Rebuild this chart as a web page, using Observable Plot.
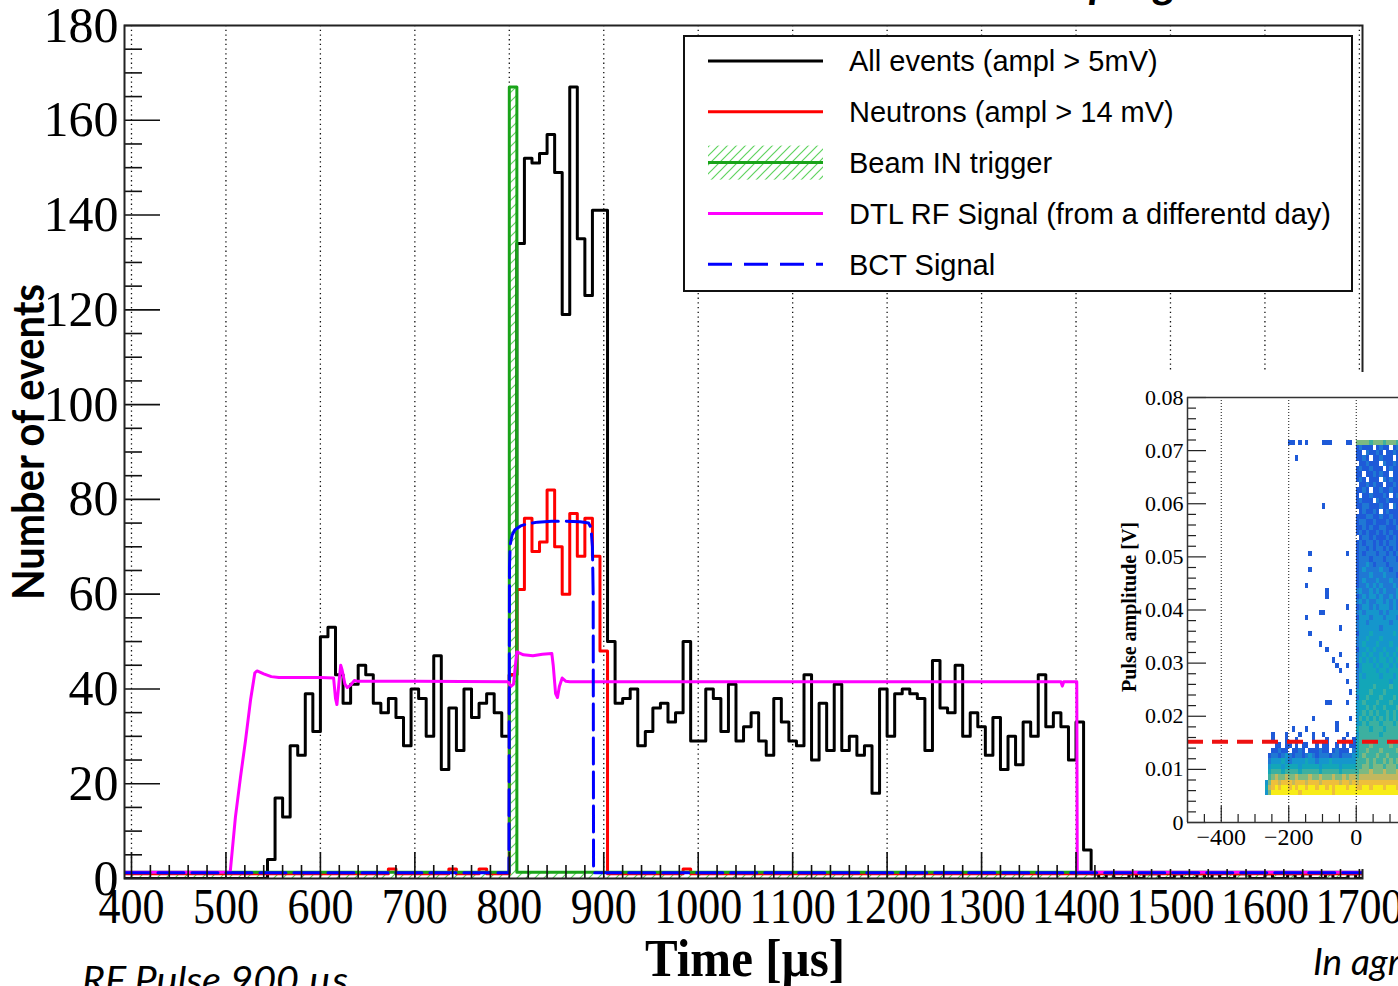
<!DOCTYPE html>
<html><head><meta charset="utf-8">
<script src="https://cdn.jsdelivr.net/npm/d3@7"></script>
<script src="https://cdn.jsdelivr.net/npm/@observablehq/plot@0.6"></script>
<style>
html,body{margin:0;padding:0;background:#fff;overflow:hidden;}
#wrap{position:relative;width:1398px;height:986px;overflow:hidden;background:#fff;}
#main{position:absolute;left:0;top:0;}
#inset{position:absolute;left:1106px;top:372px;}
</style></head><body>
<svg width="0" height="0" style="position:absolute"><defs>
<pattern id="hatch" patternUnits="userSpaceOnUse" width="9" height="9">
<path d="M-2,2 L2,-2 M0,9 L9,0 M7,11 L11,7" stroke="#5fd35f" stroke-width="1.2" fill="none"/>
</pattern></defs></svg>
<div id="wrap"><div id="main"></div><div id="inset"></div></div>
<script>
// ---------------- DATA (main histogram, 8 µs bins starting at 392 µs) ----------------
const binStart = 392, binWidth = 8;
const allEvents = [0,
 0,0,0,0,0,0,0,0,0,0,
 0,0,0,0,0,0,0,0,4,17,
 13,28,26,39,31,51,53,43,37,41,
 45,43,37,35,38,34,28,40,38,30,
 47,23,36,27,40,34,37,39,35,30,
 43,134,152,151,153,157,149,119,167,135,
 123,141,141,50,37,38,40,28,31,36,
 37,33,35,50,29,29,40,38,31,41,
 29,32,35,29,26,38,33,29,28,43,
 25,37,27,41,27,30,26,28,18,40,
 30,39,40,39,38,27,46,36,35,45,
 30,35,32,26,34,23,30,24,33,30,
 43,32,35,32,25,33,6,1,0,1,
 0,0,1,0,1,1,0,0,1,0,
 0,1,0,1,0,0,1,1,0,0,
 1,0,0,1,0,1,0,0,1,0,
 0,1,0];
const neutrons = [1,
 1,1,1,1,1,1,1,1,1,1,
 1,1,1,1,1,1,1,1,1,1,
 1,1,1,1,1,1,1,1,1,1,
 1,1,1,1,2,1,1,1,1,1,
 1,1,2,1,1,1,2,1,1,1,
 43,61,76,69,71,82,70,60,77,68,
 76,68,48,1,1,1,1,1,1,1,
 1,1,1,2,1,1,1,1,1,1,
 1,1,1,1,1,1,1,1,1,1,
 1,1,1,1,1,1,1,1,1,1,
 1,1,1,1,1,1,1,1,1,1,
 1,1,1,1,1,1,1,1,1,1,
 1,1,1,1,1,1,1,1,1,1,
 1,1,1,1,1,1,1,1,1,1,
 1,1,1,1,1,1,1,1,1,1,
 1,1,1,1,1,1,1,1,1,1,
 1,1,1];
const triggerEdges = [392, 800, 808, 1704];
const triggerCounts = [1.3, 167, 1.3];
const rfT = [392,504.5,510,515.4,520.7,526,530.6,533,540,548,556,600,614,616,617.5,619.5,621.5,623,626,628.5,632,636,640,700,799,801.5,804.5,807,808,815,825,835,845,846.5,849,851,853,856,860,864,900,1000,1100,1200,1300,1384,1385.5,1387,1400.8,1401.3,1704];
const rfV = [1.3,1.3,12.9,21.4,29.1,37.6,43.4,43.8,43.2,42.6,42.4,42.4,42.3,38,36.7,41,45,44,41,40.3,40.8,41.8,41.6,41.6,41.5,40.5,41,46,47.8,47.2,47.0,47.3,47.5,45,39,38.2,40.5,42.3,41.6,41.5,41.5,41.5,41.5,41.5,41.5,41.5,40.6,41.5,41.5,1.3,1.3];
const bctT = [392,799.6,800.2,801,803,806,812,820,830,845,860,875,884,886.5,888,888.8,889.2,1704];
const bctV = [1.2,1.2,66,70.5,72.5,73.6,74.4,74.9,75.2,75.4,75.4,75.3,75.0,74,70,60,1.2,1.2];
const xTickVals = [400,500,600,700,800,900,1000,1100,1200,1300,1400,1500,1600,1700];
const yTickVals = [0,20,40,60,80,100,120,140,160,180];
const legendLabels = ["All events (ampl > 5mV)","Neutrons (ampl > 14 mV)","Beam IN trigger","DTL RF Signal (from a differentd day)","BCT Signal"];
const legendColors = ["#000000","#ff0000","#19a319","#ff00ff","#0000ff"];

// ---------------- DATA (inset 2D histogram) ----------------
const heatDt = 10;              // µs per column
const bandT0 = -280, bandMv0 = 5;   // band rows from 5 mV upward, columns from -280 µs
const bandRows = [
 "0369999999989999999998999999",
 "0478989989899899899898999899",
 "0368878887888788878888878878",
 "0056766766766676676667667677",
 "0045554555545555545555545555",
 "0034443444434444434444434444",
 "0023334323333433233343333333",
 "0012212321221232122212212223",
 "0001121101121011121101211102",
 "0000110110101100101100101011",
 "0001000100100001000100001001"];
const pulseT0 = 0, pulseTopMv = 71;  // rows listed from 71 mV downward, columns from 0 µs
const pulseRows = [
 "6666566656665","1211101211012","1102112101121","1121011211101","0112111021121",
 "1211211101211","1101121211011","1210111021211","0112121101121","1121011211211",
 "1011211121012","1211102112111","1122111211021","0121121012111","1112211211211",
 "1221121112121","1121211221112","1212112121211","0122121112121","1212212121221",
 "1221212212121","1212221221212","1222122212221","1223212221222","1232222322122",
 "1222322232221","1232223222322","1223232322232","2322323232223","1232332322323",
 "2323223323232","1233232333232","2323333232333","1333233323332","2332333333233",
 "2333333233333","1333433333343","2334333433333","2343334333433","1334343343334",
 "2343433434343","2434343443434","1344434344343","2344443443444","2434444344434",
 "2444444444344","2444454444544","3444544454444","2445444544454","3454445444544",
 "3445454454445","3454545445454","3545454545454","3454555455545","4555455545555",
 "3555555455555","4555555555555","4555655555655","4556555655556","4565556556555",
 "5556565565656","5566566656665","5666766676667","6777777777777","7888888888888",
 "8899899989998","9999999999999"];
const scatterT = [-200,-190,-170,-150,-100,-90,-80,-30,-20,-180,-100,-140,-30,-140,-150,-90,-90,-30,-110,-100,-150,-50,-140,-110,-90,-50,-70,-60,-30,-50,-30,-20,-90,-80,-30,-130,-20,-60,-190,-150,-60,-250,-210,-170,-130,-100,-30];
const scatterMv = [71,71,71,71,71,71,71,71,71,68,59,50,50,47,44,43,42,40,39,39,38,36,35,33,32,31,30,29,29,28,26,24,22,22,22,19,19,18,17,17,17,16,16,16,16,16,16];
const heatPalette = ["#1e5ad8","#1f78d4","#1596cc","#13a6b8","#3cb0a0","#7cb982","#c3b85e","#eebf3c","#f8ec18"];
const insetYTicks = [0,0.01,0.02,0.03,0.04,0.05,0.06,0.07,0.08];
const insetYLabels = ["0","0.01","0.02","0.03","0.04","0.05","0.06","0.07","0.08"];
const insetXTicks = [-400,-200,0];
const insetXLabels = ["\u2212400","\u2212200","0"];
const neutronCut = 0.0152;

// ---------------- build ----------------
function steps(values, start, width) {
  const pts = values.map((v, i) => ({t: start + i * width, v}));
  pts.push({t: start + values.length * width, v: values[values.length - 1]});
  return pts;
}
const allPts = steps(allEvents, binStart, binWidth);
const neuPts = steps(neutrons, binStart, binWidth);
const trigPts = triggerCounts.map((v, i) => ({t: triggerEdges[i], v}));
trigPts.push({t: triggerEdges[triggerEdges.length - 1], v: triggerCounts[triggerCounts.length - 1]});
const rf = rfT.map((t, i) => ({t, v: rfV[i]}));
const bct = bctT.map((t, i) => ({t, v: bctV[i]}));

const X0 = 392.6, X1 = 1703.3;
const pxPerX = (1362 - 124) / (X1 - X0), pxPerY = (878 - 25) / 180;
const minorX = d3.range(400, 1701, 20).filter(d => d % 100 !== 0);
const minorY = d3.range(0, 181, 5).filter(d => d % 20 !== 0);
const XLAB_FONT = "Liberation Serif, Times New Roman, serif";

const main = Plot.plot({
  width: 1398, height: 986,
  marginLeft: 124, marginRight: 36, marginTop: 25, marginBottom: 108,
  x: {domain: [X0, X1], axis: null},
  y: {domain: [0, 180], axis: null},
  style: {background: "white"},
  marks: [
    Plot.ruleX(xTickVals, {stroke: "#111", strokeWidth: 1.3, strokeDasharray: "1.3,3.4"}),
    Plot.areaY(trigPts, {x: "t", y: "v", curve: "step-after", fill: "url(#hatch)", clip: true}),
    Plot.line(allPts, {x: "t", y: "v", curve: "step-after", stroke: "#000", strokeWidth: 3, clip: true}),
    Plot.line(neuPts, {x: "t", y: "v", curve: "step-after", stroke: "#ff0000", strokeWidth: 3, clip: true}),
    Plot.line(trigPts, {x: "t", y: "v", curve: "step-after", stroke: "#19a319", strokeWidth: 3, clip: true}),
    Plot.line(rf, {x: "t", y: "v", stroke: "#ff00ff", strokeWidth: 3, clip: true}),
    Plot.line(bct, {x: "t", y: "v", stroke: "#0000ff", strokeWidth: 3, strokeDasharray: "26,8", clip: true}),
    Plot.ruleX(minorX, {x: d => d, y1: 0, y2: 13 / pxPerY, stroke: "#111", strokeWidth: 1.6}),
    Plot.ruleX(xTickVals, {x: d => d, y1: 0, y2: 26 / pxPerY, stroke: "#111", strokeWidth: 1.6}),
    Plot.ruleY(minorY, {y: d => d, x1: X0, x2: X0 + 18 / pxPerX, stroke: "#111", strokeWidth: 1.6}),
    Plot.ruleY(yTickVals, {y: d => d, x1: X0, x2: X0 + 36 / pxPerX, stroke: "#111", strokeWidth: 1.6}),
    Plot.frame({stroke: "#222", strokeWidth: 2}),
    Plot.text(xTickVals, {x: d => d, y: 0, text: d => String(d), dy: 28, lineAnchor: "middle", fontSize: 50, fontFamily: XLAB_FONT, fill: "#000"}),
    Plot.text(yTickVals, {x: X0, y: d => d, text: d => String(d), dx: -6, textAnchor: "end", lineAnchor: "middle", fontSize: 50, fontFamily: "Liberation Serif", fill: "#000"})
  ]
});
document.getElementById("main").appendChild(main);

function squeeze(sel, sx) {
  sel.each(function() {
    const el = d3.select(this);
    let tr = el.attr("transform");
    if (!tr) { tr = `translate(${el.attr("x") || 0},${el.attr("y") || 0})`; el.attr("x", null).attr("y", null); }
    el.attr("transform", tr + ` scale(${sx},1)`);
  });
}
const ms = d3.select(main);
ms.selectAll("g").filter(function() { return this.getAttribute("font-family") === XLAB_FONT; })
  .each(function() { squeeze(d3.select(this).selectAll("text"), 0.88); });

// axis titles and slide texts
ms.append("text").attr("x", 745).attr("y", 976).attr("text-anchor", "middle")
  .attr("font-family", "Liberation Serif").attr("font-weight", "bold").attr("font-size", 52)
  .attr("textLength", 200).attr("lengthAdjust", "spacingAndGlyphs").text("Time [\u00b5s]");
ms.append("text").attr("transform", "translate(44,442) rotate(-90)").attr("text-anchor", "middle")
  .attr("font-family", "Lato").attr("font-weight", "bold").attr("font-size", 44)
  .attr("textLength", 316).attr("lengthAdjust", "spacingAndGlyphs").text("Number of events");
ms.append("text").attr("x", 82).attr("y", 993).attr("text-anchor", "start").attr("font-family", "Lato").attr("font-style", "italic")
  .attr("font-size", 36).attr("textLength", 266).attr("lengthAdjust", "spacingAndGlyphs").text("RF Pulse 900 \u00b5s");
ms.append("text").attr("x", 1313).attr("y", 975).attr("text-anchor", "start").attr("font-family", "Lato").attr("font-style", "italic")
  .attr("font-size", 37).text("In agreement");
const frag = ms.append("text").attr("y", -2).attr("text-anchor", "start").attr("font-family", "Lato").attr("font-style", "italic")
  .attr("font-weight", "bold").attr("font-size", 44);
frag.append("tspan").attr("x", 1089).text("p");
frag.append("tspan").attr("x", 1154).text("g");

// legend
const lg = ms.append("g");
lg.append("rect").attr("x", 684).attr("y", 36).attr("width", 668).attr("height", 255)
  .attr("fill", "white").attr("stroke", "#111").attr("stroke-width", 2);
legendLabels.forEach((lab, i) => {
  const cy = 61 + i * 50.8;
  if (i === 2) {
    lg.append("rect").attr("x", 708).attr("y", cy - 17).attr("width", 115).attr("height", 34).attr("fill", "url(#hatch)");
  }
  lg.append("line").attr("x1", 708).attr("x2", 823).attr("y1", cy).attr("y2", cy)
    .attr("stroke", legendColors[i]).attr("stroke-width", 3)
    .attr("stroke-dasharray", i === 4 ? "24,12" : null);
  lg.append("text").attr("x", 849).attr("y", cy).attr("dy", "0.36em").attr("text-anchor", "start")
    .attr("font-family", "Liberation Sans").attr("font-size", 29).text(lab);
});

// ---------------- inset ----------------
const cells = [];
bandRows.forEach((row, r) => [...row].forEach((ch, c) => {
  const lv = +ch;
  if (lv) cells.push({t1: bandT0 + c * heatDt, t2: bandT0 + (c + 1) * heatDt, a1: (bandMv0 + r) / 1000, a2: (bandMv0 + r + 1) / 1000, level: lv});
}));
pulseRows.forEach((row, r) => [...row].forEach((ch, c) => {
  const lv = +ch;
  if (lv) cells.push({t1: pulseT0 + c * heatDt, t2: pulseT0 + (c + 1) * heatDt, a1: (pulseTopMv - r) / 1000, a2: (pulseTopMv - r + 1) / 1000, level: lv});
}));
scatterT.forEach((t, i) => cells.push({t1: t, t2: t + heatDt, a1: scatterMv[i] / 1000, a2: (scatterMv[i] + 1) / 1000, level: 1}));

const IX0 = -500, IX1 = 125.2;
const ipx = 211 / (IX1 - IX0), ipy = 425 / 0.08;
const insetMinorX = d3.range(-450, 126, 50).filter(d => d % 200 !== 0);
const insetMinorY = d3.range(0, 81, 2).filter(d => d % 10 !== 0).map(d => d / 1000);
const inset = Plot.plot({
  width: 292, height: 497,
  marginLeft: 81, marginRight: 0, marginTop: 25, marginBottom: 47,
  x: {domain: [IX0, IX1], axis: null},
  y: {domain: [0, 0.08], axis: null},
  color: {type: "ordinal", domain: [1,2,3,4,5,6,7,8,9], range: heatPalette},
  style: {background: "white"},
  marks: [
    Plot.rect(cells, {x1: "t1", x2: "t2", y1: "a1", y2: "a2", fill: "level", shapeRendering: "crispEdges"}),
    Plot.ruleX(insetXTicks, {stroke: "#111", strokeWidth: 1, strokeDasharray: "1,2"}),
    Plot.ruleY([neutronCut], {stroke: "#ee1111", strokeWidth: 4, strokeDasharray: "16,9"}),
    Plot.ruleX(insetMinorX, {x: d => d, y1: 0, y2: 8 / ipy, stroke: "#222", strokeWidth: 1.2}),
    Plot.ruleX(insetXTicks, {x: d => d, y1: 0, y2: 16 / ipy, stroke: "#222", strokeWidth: 1.2}),
    Plot.ruleY(insetMinorY, {y: d => d, x1: IX0, x2: IX0 + 9 / ipx, stroke: "#222", strokeWidth: 1.2}),
    Plot.ruleY(insetYTicks, {y: d => d, x1: IX0, x2: IX0 + 19 / ipx, stroke: "#222", strokeWidth: 1.2}),
    Plot.ruleX([IX0], {stroke: "#333", strokeWidth: 1.5}),
    Plot.ruleY([0, 0.08], {stroke: "#333", strokeWidth: 1.5}),
    Plot.text(insetYTicks, {x: IX0, y: d => d, text: (d, i) => insetYLabels[i], dx: -4, textAnchor: "end", lineAnchor: "middle", fontSize: 22, fontFamily: "Liberation Serif", fill: "#000"}),
    Plot.text(insetXTicks, {x: d => d, y: 0, text: (d, i) => insetXLabels[i], dy: 15, lineAnchor: "middle", fontSize: 24, fontFamily: "Liberation Serif", fill: "#000"})
  ]
});
document.getElementById("inset").appendChild(inset);
d3.select(inset).append("text").attr("transform", "translate(30,235) rotate(-90)").attr("text-anchor", "middle")
  .attr("font-family", "Liberation Serif").attr("font-weight", "bold").attr("font-size", 20)
  .text("Pulse amplitude [V]");
</script></body></html>
